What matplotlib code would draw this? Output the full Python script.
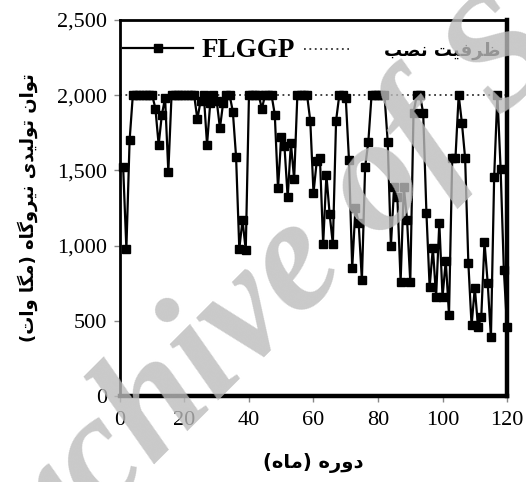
import numpy as np
import matplotlib.pyplot as plt
from matplotlib.ticker import FuncFormatter

# monthly output of the plant (MW)
months = np.arange(1, 121)
flggp = [1520, 980, 1700, 2000, 2000, 2000, 2000, 2000, 2000, 2000,
         1910, 1670, 1870, 1980, 1490, 2000, 2000, 2000, 2000, 2000,
         2000, 2000, 2000, 1840, 1960, 2000, 1670, 1950, 2000, 1960,
         1780, 1950, 2000, 2000, 1890, 1590, 980, 1170, 970, 2000,
         2000, 2000, 2000, 1910, 2000, 2000, 2000, 1870, 1380, 1720,
         1660, 1320, 1680, 1440, 2000, 2000, 2000, 2000, 1830, 1350,
         1560, 1580, 1010, 1470, 1210, 1010, 1830, 2000, 2000, 1980,
         1570, 850, 1250, 1150, 770, 1520, 1690, 2000, 2000, 2000,
         2000, 2000, 1690, 1000, 1390, 1320, 760, 1390, 1170, 760,
         1880, 2000, 2000, 1880, 1220, 725, 985, 660, 1150, 660,
         900, 540, 1580, 1580, 2000, 1815, 1580, 885, 470, 720,
         460, 525, 1025, 750, 390, 1455, 2000, 1510, 840, 460]
capacity = 2000

x_ticks = [0, 20, 40, 60, 80, 100, 120]
y_ticks = [0, 500, 1000, 1500, 2000, 2500]

label_series = 'FLGGP'
label_capacity = 'ظرفیت نصب'
label_x = 'دوره (ماه)'
label_y = 'توان تولیدی نیروگاه (مگا وات)'

# matplotlib has no arabic shaping, so pick presentation forms by hand
# (isolated, final, initial, medial)
FORMS = {
    'ا': ('\uFE8D', '\uFE8E', None, None),
    'د': ('\uFEA9', '\uFEAA', None, None),
    'ر': ('\uFEAD', '\uFEAE', None, None),
    'و': ('\uFEED', '\uFEEE', None, None),
    'ب': ('\uFE8F', '\uFE90', '\uFE91', '\uFE92'),
    'ت': ('\uFE95', '\uFE96', '\uFE97', '\uFE98'),
    'ص': ('\uFEB9', '\uFEBA', '\uFEBB', '\uFEBC'),
    'ظ': ('\uFEC5', '\uFEC6', '\uFEC7', '\uFEC8'),
    'ف': ('\uFED1', '\uFED2', '\uFED3', '\uFED4'),
    'ل': ('\uFEDD', '\uFEDE', '\uFEDF', '\uFEE0'),
    'م': ('\uFEE1', '\uFEE2', '\uFEE3', '\uFEE4'),
    'ن': ('\uFEE5', '\uFEE6', '\uFEE7', '\uFEE8'),
    'ه': ('\uFEE9', '\uFEEA', '\uFEEB', '\uFEEC'),
    'ی': ('\uFBFC', '\uFBFD', '\uFBFE', '\uFBFF'),
    'گ': ('\uFB92', '\uFB93', '\uFB94', '\uFB95'),
}


def shape_fa(text):
    out = []
    for i, ch in enumerate(text):
        if ch not in FORMS:
            out.append(ch)
            continue
        prev = text[i - 1] if i > 0 else ''
        nxt = text[i + 1] if i + 1 < len(text) else ''
        join_prev = prev in FORMS and FORMS[prev][2] is not None
        join_next = nxt in FORMS and FORMS[ch][2] is not None
        iso, fin, ini, med = FORMS[ch]
        if join_prev and join_next:
            out.append(med)
        elif join_prev:
            out.append(fin)
        elif join_next:
            out.append(ini)
        else:
            out.append(iso)
    vis = ''.join(reversed(out))
    return vis.translate(str.maketrans('()', ')('))


serif = 'Liberation Serif'
fa_font = ['DejaVu Sans']

fig = plt.figure(figsize=(5.26, 4.82), dpi=100)
ax = fig.add_axes([0.228, 0.178, 0.736, 0.781])

cap_line = ax.axhline(capacity, color='#333333', lw=1.3, ls=(0, (1, 2)),
                      zorder=1)
main_line, = ax.plot(months, flggp, color='black', lw=1.6, marker='s',
                     markersize=6.3, clip_on=False, zorder=3)

ax.set_xlim(0, 120)
ax.set_ylim(0, 2500)
ax.set_xticks(x_ticks)
ax.set_yticks(y_ticks)
ax.yaxis.set_major_formatter(FuncFormatter(lambda v, p: f'{v:,.0f}'))
ax.tick_params(direction='out', length=4, width=1, color='#888888',
               labelsize=16)
ax.tick_params(axis='x', pad=7)
ax.tick_params(axis='y', pad=5)
for lab in ax.get_xticklabels() + ax.get_yticklabels():
    lab.set_family(serif)

ax.spines['left'].set_linewidth(2)
ax.spines['top'].set_linewidth(2)
ax.spines['right'].set_linewidth(3.2)
ax.spines['bottom'].set_linewidth(3.2)

ax.set_xlabel(shape_fa(label_x), family=fa_font, weight='bold', fontsize=14,
              labelpad=16)
ax.set_ylabel(shape_fa(label_y), family=fa_font, weight='bold', fontsize=13,
              labelpad=14)

# two legends so each handle gets its own length
leg1 = ax.legend([main_line], [label_series], loc='center left',
                 bbox_to_anchor=(0.008, 0.918), frameon=False,
                 borderpad=0, borderaxespad=0,
                 handlelength=2.6, handletextpad=0.3,
                 prop={'family': serif, 'weight': 'bold', 'size': 19.5})
ax.add_artist(leg1)
leg2 = ax.legend([cap_line], [shape_fa(label_capacity)], loc='center right',
                 bbox_to_anchor=(0.982, 0.918), frameon=False,
                 borderpad=0, borderaxespad=0,
                 handlelength=2.5, handletextpad=1.9,
                 prop={'family': fa_font, 'weight': 'bold', 'size': 13})

# watermark of the source page
fig.text(0.59, 0.46, 'Archive of SID', rotation=45, fontsize=116,
         family=serif, style='italic', weight='bold', color='#bcbcbc',
         alpha=0.8, ha='center', va='center', zorder=10)

fig.savefig('out.png', dpi=100)
